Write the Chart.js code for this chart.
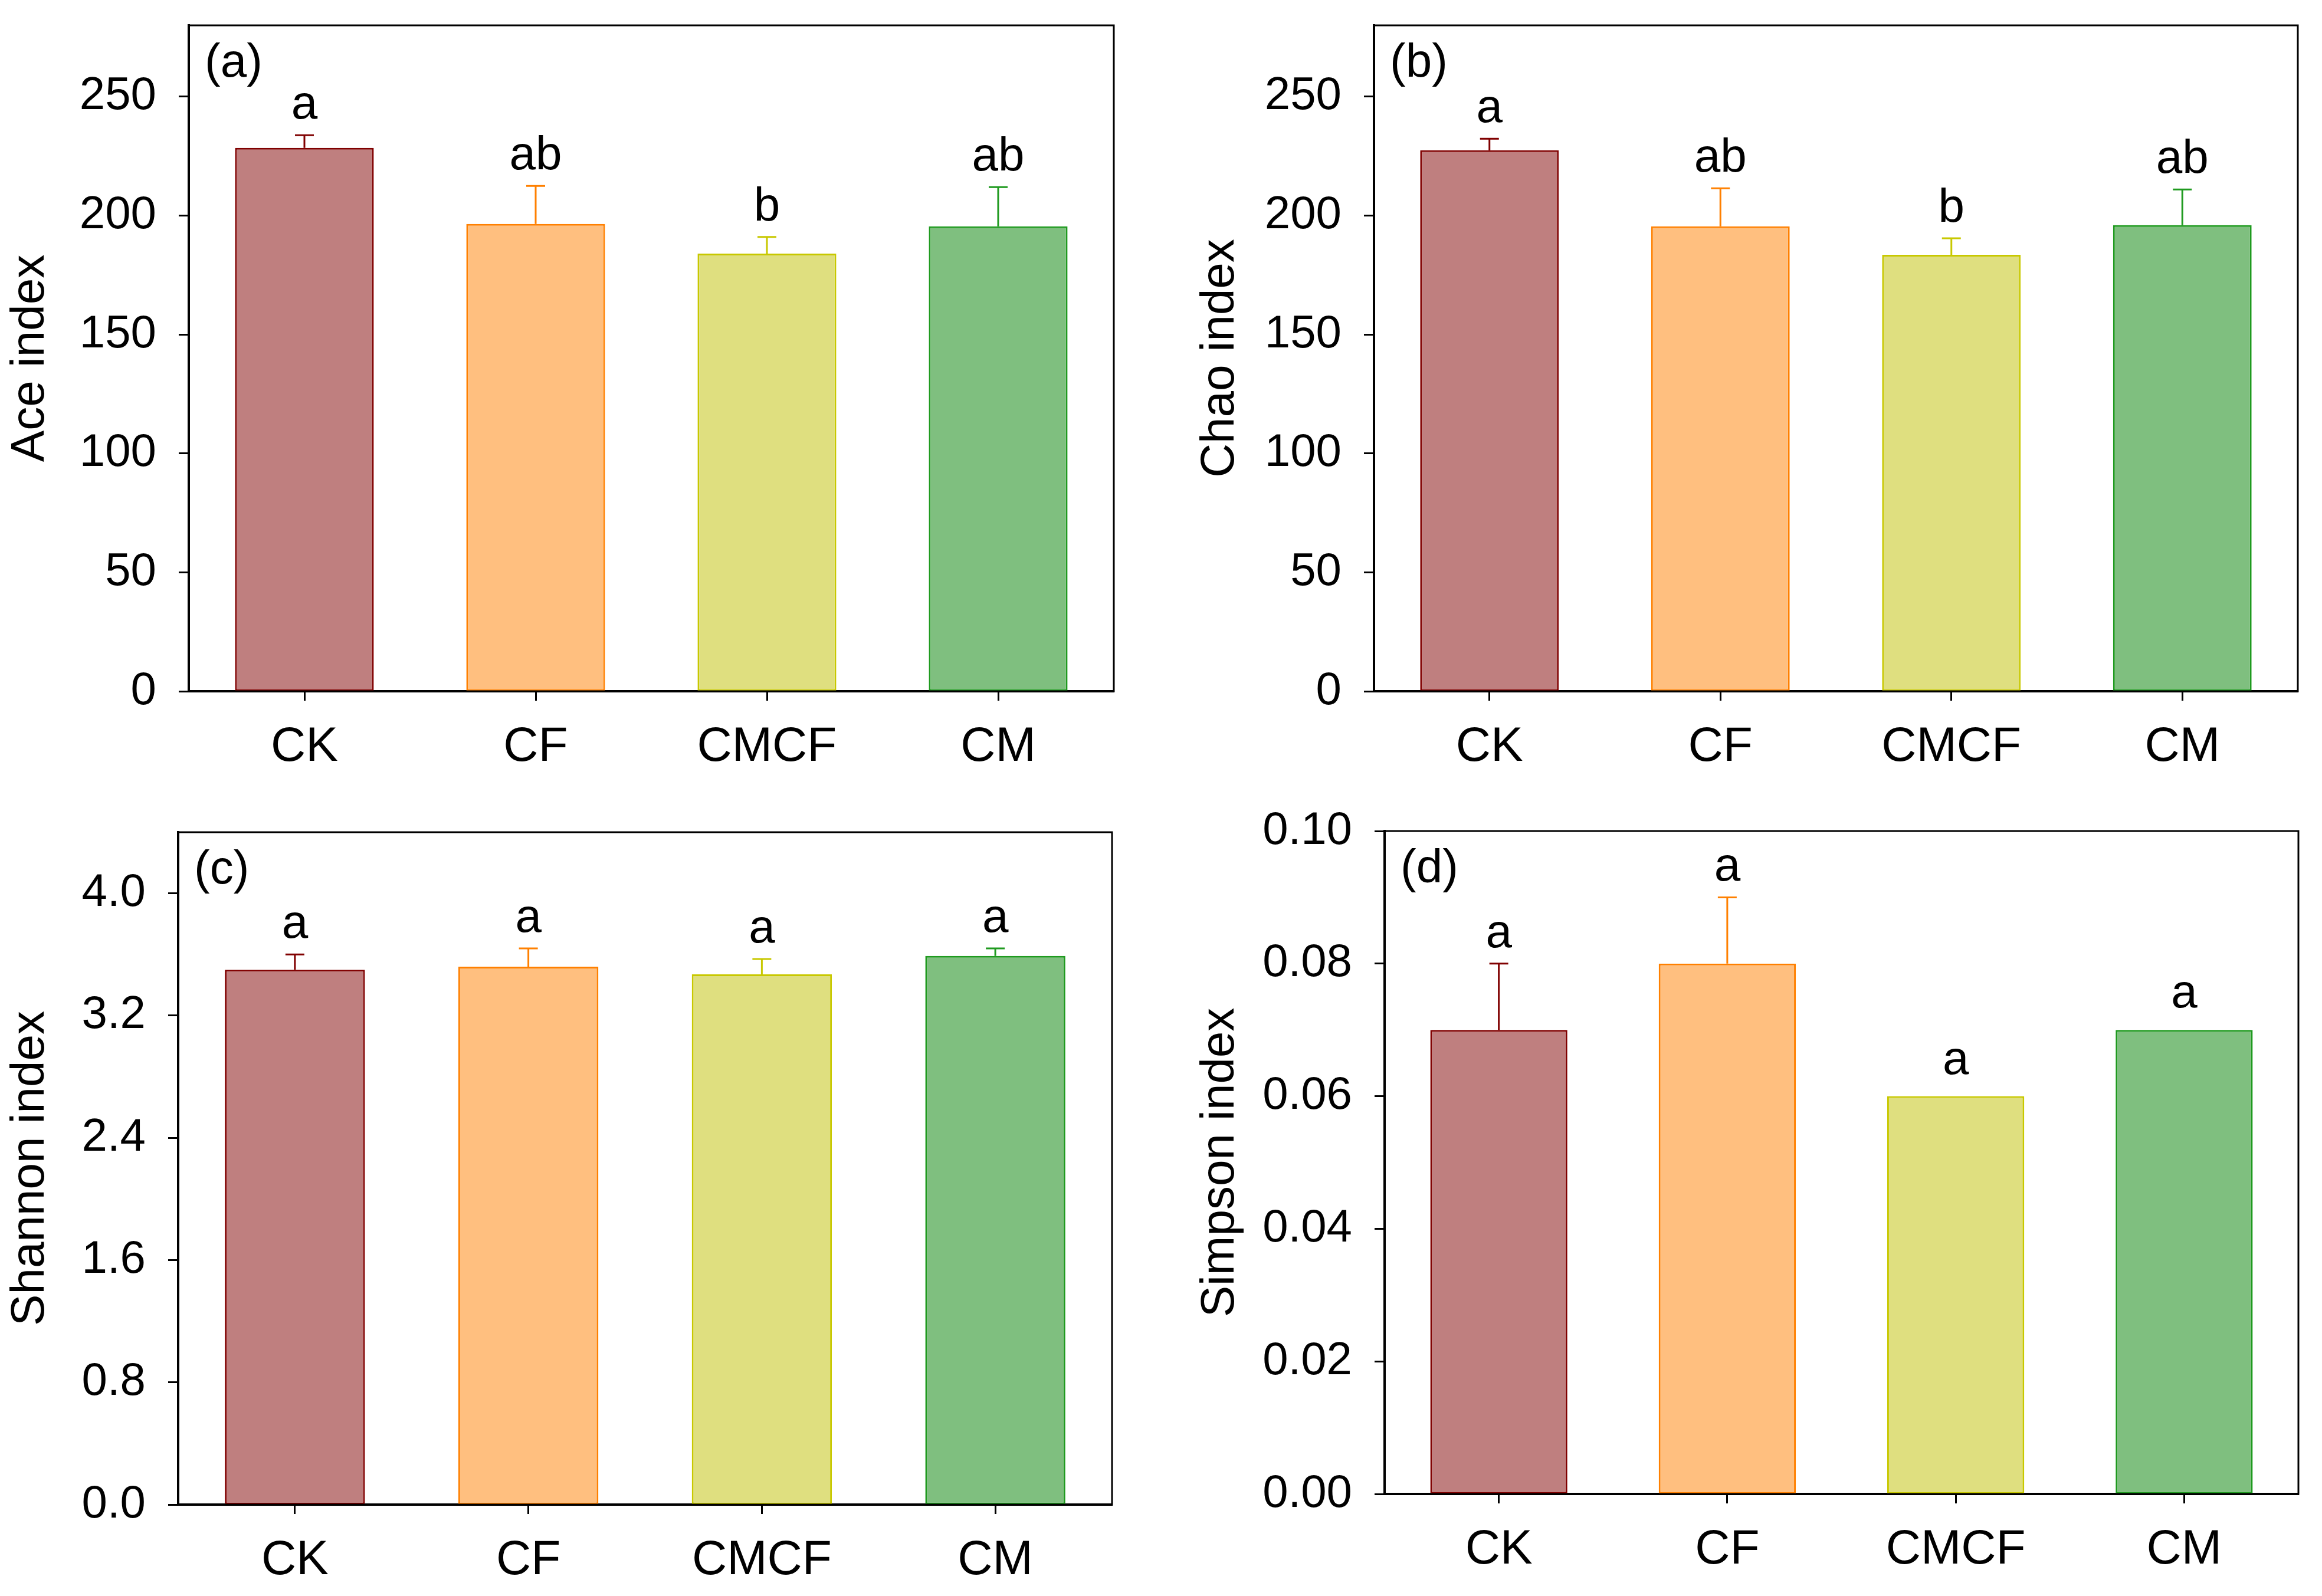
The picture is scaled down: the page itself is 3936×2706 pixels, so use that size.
<!DOCTYPE html>
<html lang="en">
<head>
<meta charset="UTF-8">
<title>Alpha diversity indices</title>
<script src="https://cdn.jsdelivr.net/npm/chart.js"></script>
<style>
  body { margin: 0; background: #fff; }
  #wrap { position: relative; width: 3936px; height: 2706px; background: #fff; }
  canvas { position: absolute; }
</style>
</head>
<body>
<div id="wrap">
  <canvas id="ace" width="1968" height="1353" style="left:0px;top:0px"></canvas>
  <canvas id="chao" width="1919" height="1353" style="left:2017px;top:0px"></canvas>
  <canvas id="shannon" width="1968" height="1353" style="left:0px;top:1353px"></canvas>
  <canvas id="simpson" width="1919" height="1353" style="left:2017px;top:1353px"></canvas>
</div>
<script>
const groups = ['CK', 'CF', 'CMCF', 'CM'];

const aceMean = [228.5, 196.5, 184, 195.5];
const aceErr = [5.3, 16, 7, 16.5];
const aceLetters = ['a', 'ab', 'b', 'ab'];
const aceTicks = [0, 50, 100, 150, 200, 250];

const chaoMean = [227.5, 195.5, 183.5, 196];
const chaoErr = [4.8, 16, 7, 15];
const chaoLetters = ['a', 'ab', 'b', 'ab'];
const chaoTicks = [0, 50, 100, 150, 200, 250];

const shannonMean = [3.50, 3.52, 3.47, 3.59];
const shannonErr = [0.10, 0.12, 0.10, 0.05];
const shannonLetters = ['a', 'a', 'a', 'a'];
const shannonTicks = [0, 0.8, 1.6, 2.4, 3.2, 4.0];

const simpsonMean = [0.07, 0.08, 0.06, 0.07];
const simpsonErr = [0.01, 0.01, 0, 0];
const simpsonLetters = ['a', 'a', 'a', 'a'];
const simpsonTicks = [0, 0.02, 0.04, 0.06, 0.08, 0.10];

const fills = ['#bf7f7f', '#ffbf7f', '#dfdf7f', '#7fbf7f'];
const edges = ['#800000', '#ff8000', '#c8c800', '#1f9a1f'];

const FONT = '"Liberation Sans", Arial, sans-serif';
Chart.defaults.font.family = FONT;
Chart.defaults.color = '#000';

// error bars, significance letters, panel tag and the box frame
const extras = {
  id: 'extras',
  afterDatasetsDraw(chart, args, o) {
    const ctx = chart.ctx, y = chart.scales.y, area = chart.chartArea;
    const bars = chart.getDatasetMeta(0).data;
    ctx.save();
    bars.forEach((bar, i) => {
      const yTop = y.getPixelForValue(o.mean[i] + o.err[i]);
      if (o.err[i] > 0) {
        ctx.strokeStyle = edges[i];
        ctx.lineWidth = 3;
        ctx.beginPath();
        ctx.moveTo(bar.x, bar.y);
        ctx.lineTo(bar.x, yTop);
        ctx.moveTo(bar.x - 16, yTop);
        ctx.lineTo(bar.x + 16, yTop);
        ctx.stroke();
      }
      ctx.fillStyle = '#000';
      ctx.font = '80px ' + FONT;
      ctx.textAlign = 'center';
      ctx.textBaseline = 'alphabetic';
      ctx.fillText(o.letters[i], bar.x, yTop - (o.err[i] > 0 ? 28 : 38));
    });
    ctx.textAlign = 'left';
    ctx.fillText(o.tag, area.left + 27, area.top + 87);
    ctx.strokeStyle = '#000';
    ctx.lineWidth = 3;
    ctx.strokeRect(area.left, area.top, area.right - area.left, area.bottom - area.top);
    ctx.restore();
  }
};

function panel(id, mean, err, letters, tickVals, max, digits, tag, title, box) {
  new Chart(document.getElementById(id), {
    type: 'bar',
    data: {
      labels: groups,
      datasets: [{
        data: mean,
        backgroundColor: fills,
        borderColor: edges,
        borderWidth: 3,
        borderSkipped: false,
        barPercentage: 0.6,
        categoryPercentage: 1.0
      }]
    },
    options: {
      responsive: false,
      animation: false,
      devicePixelRatio: 1,
      layout: { padding: { top: box.top, right: box.right, left: 0, bottom: 0 } },
      plugins: {
        legend: { display: false },
        tooltip: { enabled: false },
        extras: { mean: mean, err: err, letters: letters, tag: tag }
      },
      scales: {
        x: {
          grid: { display: true, drawOnChartArea: false, offset: false, tickLength: 16, tickWidth: 3, tickColor: '#000' },
          border: { display: true, color: '#000', width: 4 },
          ticks: { font: { size: 82 }, padding: 30, color: '#000', maxRotation: 0 },
          afterFit: s => { s.height = box.xHeight; s.paddingLeft = 0; s.paddingRight = 0; }
        },
        y: {
          min: 0,
          max: max,
          grid: { display: true, drawOnChartArea: false, tickLength: 17, tickWidth: 3, tickColor: '#000' },
          border: { display: true, color: '#000', width: 4 },
          ticks: {
            font: { size: 78 },
            padding: 38,
            color: '#000',
            callback: v => Number(v).toFixed(digits)
          },
          afterBuildTicks: s => { s.ticks = tickVals.map(v => ({ value: v })); },
          title: { display: true, text: title, font: { size: 80 }, color: '#000', padding: { top: 4, bottom: 0 } },
          afterFit: s => { s.width = box.yWidth; s.paddingTop = 0; s.paddingBottom = 0; }
        }
      }
    },
    plugins: [extras]
  });
}

panel('ace', aceMean, aceErr, aceLetters, aceTicks, 280, 0, '(a)', 'Ace index',
  { top: 43, right: 80, yWidth: 320, xHeight: 181 });
panel('chao', chaoMean, chaoErr, chaoLetters, chaoTicks, 280, 0, '(b)', 'Chao index',
  { top: 43, right: 41, yWidth: 312, xHeight: 181 });
panel('shannon', shannonMean, shannonErr, shannonLetters, shannonTicks, 4.4, 1, '(c)', 'Shannon index',
  { top: 58, right: 83, yWidth: 302, xHeight: 155 });
panel('simpson', simpsonMean, simpsonErr, simpsonLetters, simpsonTicks, 0.10, 2, '(d)', 'Simpson index',
  { top: 56, right: 40, yWidth: 330, xHeight: 173 });
</script>
</body>
</html>
